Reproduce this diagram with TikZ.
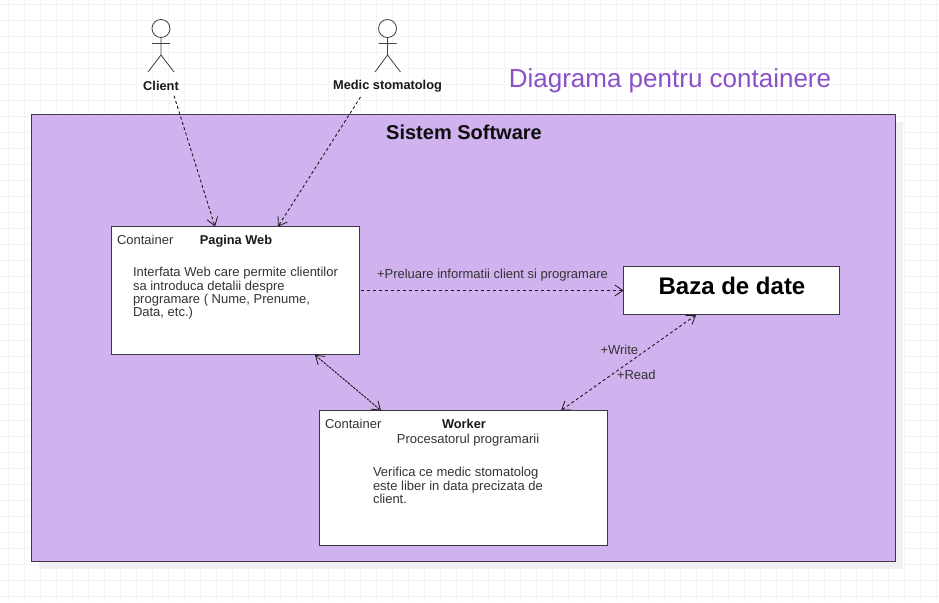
\documentclass[tikz,border=0pt]{standalone}
\usepackage{fontspec}
\setmainfont{Liberation Sans}
\usetikzlibrary{arrows.meta,calc}
\definecolor{gridc}{HTML}{F3F3F5}
\definecolor{boxline}{HTML}{3E3844}
\definecolor{sysfill}{HTML}{CFB2EE}
\definecolor{titlec}{HTML}{8A50C8}
\definecolor{txt}{HTML}{333333}
\tikzset{
  plain/.style={inner sep=0pt,outer sep=0pt,text=txt,font=\fontsize{13}{13.2}\selectfont},
  tbold/.style={plain,text=black!90,font=\fontsize{12.8}{13}\selectfont\bfseries},
  para/.style={plain,align=left,anchor=north west},
  boxc/.style={draw=boxline,line width=1.2pt,fill=white,inner sep=0pt,outer sep=0pt},
  actorline/.style={draw=black!75,line width=0.8pt},
  conn/.style={draw=black!90,line width=0.9pt,dash pattern=on 3pt off 2.5pt,
     arrows={-Straight Barb[length=8pt,width=11pt,line width=0.8pt]}},
  conn2/.style={conn,arrows={Straight Barb[length=8pt,width=11pt,line width=0.8pt]-Straight Barb[length=8pt,width=11pt,line width=0.8pt]}},
}
\begin{document}
\begin{tikzpicture}[x=1pt,y=-1pt]
\useasboundingbox (0,0) rectangle (939,602);
\fill[white] (0,0) rectangle (939,602);
\foreach \g in {8,24,...,936} \draw[gridc,line width=0.8pt] (\g,0) -- (\g,602);
\foreach \g in {4,20,...,600} \draw[gridc,line width=0.8pt] (0,\g) -- (939,\g);
% shadow and system boundary
\fill[black!6] (39,122) rectangle (903,569);
\node[boxc,fill=sysfill,anchor=north west,minimum width=864pt,minimum height=447pt] (sys) at (31.5,114.5) {};
\node[plain,text=black!95,font=\fontsize{20}{24}\selectfont\bfseries] (systitle) at (464,132.5) {Sistem Software};
\node[plain,text=titlec,font=\fontsize{26}{30}\selectfont] (title) at (670,81) {Diagrama pentru containere};
% actors
\node[circle,draw=black!75,line width=0.8pt,fill=white,minimum size=18pt,inner sep=0pt] (clienthead) at (161,28.5) {};
\draw[actorline] (clienthead.south) -- (161,55) (152,43.5) -- (170,43.5) (148,72) -- (161,55) -- (174,72);
\node[tbold] (client) at (161,86) {Client};
\node[circle,draw=black!75,line width=0.8pt,fill=white,minimum size=18pt,inner sep=0pt] (medichead) at (387.5,28.5) {};
\draw[actorline] (medichead.south) -- (387.5,55) (378.5,43.5) -- (396.5,43.5) (375,72) -- (387.5,55) -- (400.5,72);
\node[tbold] (medic) at (387.5,86) {Medic stomatolog};
% boxes
\node[boxc,anchor=north west,minimum width=248pt,minimum height=128pt] (web) at (111.5,226.5) {};
\node[plain,anchor=west] (webk) at (117,240) {Container};
\node[tbold] (webn) at (236,241) {Pagina Web};
\node[para] (webt) at (133,267.5) {Interfata Web care permite clientilor\\sa introduca detalii despre\\programare ( Nume, Prenume,\\Data, etc.)};
\node[boxc,anchor=north west,minimum width=216pt,minimum height=48pt] (db) at (623.5,266.5) {};
\node[plain,text=black,font=\fontsize{24}{28}\selectfont\bfseries] (dbn) at (732,286) {Baza de date};
\node[boxc,anchor=north west,minimum width=288pt,minimum height=135pt] (worker) at (319.5,410.5) {};
\node[plain,anchor=west] (workerk) at (325,424) {Container};
\node[tbold] (workern) at (464,423.5) {Worker};
\node[plain] (workers) at (468,440) {Procesatorul programarii};
\node[para] (workert) at (373,467.5) {Verifica ce medic stomatolog\\este liber in data precizata de\\client.};
% connectors
\draw[conn] ($(client.south)+(13,5)$) -- ($(web.north west)+(103.5,0)$);
\draw[conn] ($(medic.south)+(-27,5)$) -- ($(web.north west)+(166.5,0)$);
\draw[conn,line width=1.1pt,dash pattern=on 3pt off 3pt] (web.east) ++(1,0) -- (db.west);
\draw[conn2,dash pattern=on 2.5pt off 1pt] ($(web.south east)+(-44.5,0.5)$) -- ($(worker.north west)+(61.5,0)$);
\draw[conn2] ($(db.south west)+(72.5,0.5)$) -- ($(worker.north east)+(-46.5,0)$);
% labels
\node[plain,anchor=west] (l1) at (377,275.5) {+Preluare informatii client si programare};
\node[plain,anchor=west] (l2) at (600.5,349.5) {+Write};
\node[plain,anchor=west] (l3) at (617,374.5) {+Read};
\end{tikzpicture}
\end{document}
